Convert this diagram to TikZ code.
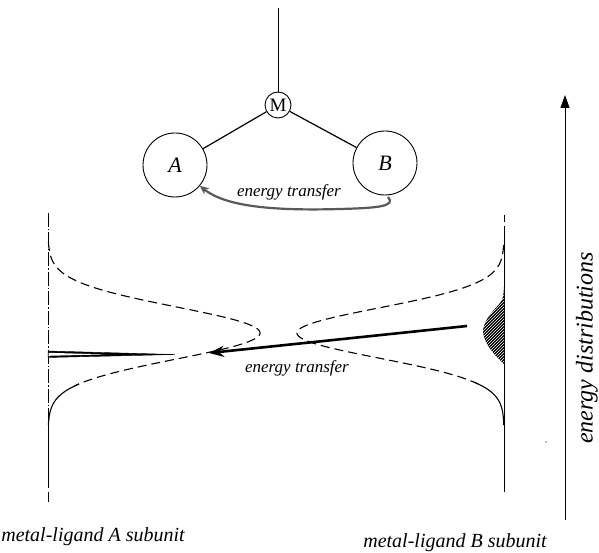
\documentclass[tikz,border=0pt]{standalone}
\usepackage{fontspec}
\setmainfont{Liberation Serif}
\usetikzlibrary{arrows.meta,patterns}
\begin{document}
\begin{tikzpicture}[x=1pt,y=-1pt,line width=0.9pt,
  lbl/.style={font=\itshape\fontsize{17}{20}\selectfont, inner sep=0pt},
  sublbl/.style={font=\itshape\fontsize{20}{22}\selectfont, inner sep=0pt},
  bigcirc/.style={circle,draw,minimum size=64pt,inner sep=0pt,font=\itshape\fontsize{22}{22}\selectfont},
  dsh/.style={line width=1.1pt,dash pattern=on 9pt off 5pt}]
\useasboundingbox (0,0) rectangle (599,553);
% top molecule
\coordinate (top) at (278,8);
\node[circle,draw,minimum size=26pt,inner sep=0pt,font=\fontsize{19}{19}\selectfont] (M) at (278,105) {M};
\node[bigcirc] (A) at (175,165) {A};
\node[bigcirc] (B) at (385,163) {B};
\draw (top) -- (M);
\draw[line width=1.2pt] (M) -- (A);
\draw[line width=1.2pt] (M) -- (B);
\coordinate (et1) at (388,197);
\draw[gray!70!black, line width=2.2pt, -{Stealth[length=9pt,width=8pt]}]
  (et1) .. controls (396,206) and (380,208) .. (340,209)
  .. controls (270,211) and (225,206) .. (A.-40);
\node[lbl] (etA) at (289,192) {energy transfer};
% axes of the distributions
\draw[dash pattern=on 14pt off 2pt on 1.5pt off 2pt] (48,213) -- (48,408);
\draw (48,408) -- (48,488);
\draw (48,492) -- (48,502);
\draw (504,215) -- (504,222);
\draw (504,226) -- (504,492);
% left distribution
\draw[dsh] plot[variable=\t, domain=242:386, samples=150] ({48+212*exp(-0.5*((\t-333)/26)^2)},\t);
\draw[line width=1.1pt] plot[variable=\t, domain=384:425, samples=40] ({48+212*exp(-0.5*((\t-333)/26)^2)},\t);
% right distribution
\draw[dsh] plot[variable=\t, domain=245:384, samples=150] ({504-207*exp(-0.5*((\t-333)/25)^2)},\t);
\draw[line width=1.1pt] plot[variable=\t, domain=382:425, samples=40] ({504-207*exp(-0.5*((\t-333)/25)^2)},\t);
% spike at A
\filldraw[line width=0.4pt] (48,351) -- (175,354.5) -- (48,357.5) -- cycle;
\fill[white] (48.5,352.8) -- (105,354.4) -- (48.5,355.8) -- cycle;
% hatched population at B
\fill[black, postaction={pattern=north east lines, pattern color=white}]
  plot[smooth] coordinates {(504,287) (502,300) (493,311) (486,321) (483,332) (487,344) (495,355) (504,364)} -- cycle;
% energy transfer arrow
\coordinate (ts) at (467,326);
\coordinate (te) at (209,353);
\draw[line width=2.6pt, -{Stealth[length=15pt,width=11pt,inset=5pt]}] (ts) -- (te);
\node[lbl] (etB) at (297,368) {energy transfer};
% speck
\fill (546,442) circle (0.6pt);
% energy axis
\coordinate (ea0) at (565,520);
\coordinate (ea1) at (565,95);
\draw[line width=0.9pt, -{Triangle[length=13pt,width=9pt]}] (ea0) -- (ea1);
\node[rotate=90, font=\itshape\fontsize{24}{24}\selectfont, inner sep=0pt] (ed) at (587,348) {energy distributions};
% bottom labels
\node[sublbl] (la) at (93,537) {metal-ligand A subunit};
\node[sublbl] (lb) at (455,543) {metal-ligand B subunit};
\end{tikzpicture}
\end{document}
